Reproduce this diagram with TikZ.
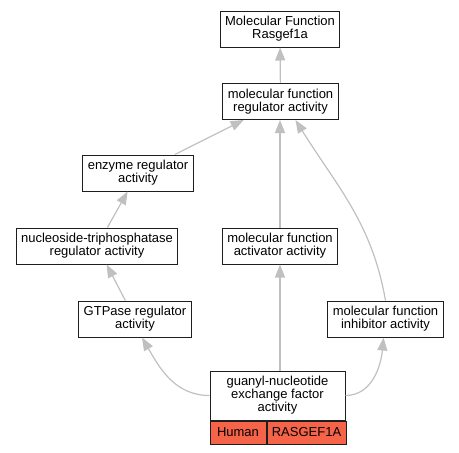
\documentclass[tikz,border=0pt]{standalone}
\usepackage{fontspec}
\setmainfont{Liberation Sans}
\usetikzlibrary{arrows.meta}
\usetikzlibrary{positioning}

\definecolor{edgegray}{RGB}{192,192,192}
\definecolor{boxline}{RGB}{30,30,30}
\definecolor{tomatocell}{RGB}{245,99,73}

\tikzset{
  term/.style={draw=boxline, line width=1pt, fill=white, align=center,
    inner xsep=5pt, inner ysep=0pt, minimum height=36pt,
    font=\fontsize{13}{13}\selectfont},
  cell/.style={draw=boxline, line width=1pt, fill=tomatocell, inner sep=0pt,
    minimum height=23pt, anchor=north west, font=\fontsize{13}{13}\selectfont},
  isa/.style={draw=edgegray, line width=1.2pt, -{Triangle[length=13pt,width=10pt]}}
}

\begin{document}
\begin{tikzpicture}[x=1pt,y=-1pt]
	\useasboundingbox (0,0) rectangle (459,453);

	% terms
	\node[term] (mf) at (280,29) {Molecular Function\\Rasgef1a};
	\node[term] (regulator) at (280.5,101.5) {molecular function\\regulator activity};
	\node[term] (enzyme) at (138,173) {enzyme regulator\\activity};
	\node[term] (ntpase) at (97,246) {nucleoside-triphosphatase\\regulator activity};
	\node[term] (activator) at (280,246) {molecular function\\activator activity};
	\node[term] (gtpase) at (135,319) {GTPase regulator\\activity};
	\node[term] (inhibitor) at (385.5,319) {molecular function\\inhibitor activity};

	% gene box
	\node[term, minimum width=135pt, minimum height=49pt] (gene) at (277.5,395.5)
		{guanyl-nucleotide\\exchange factor\\activity};
	\node[cell, minimum width=56pt] (human) at (gene.south west) {Human};
	\node[cell, minimum width=79pt] (rasgef) at (human.north east) {RASGEF1A};

	% edges
	\draw[isa] (regulator) -- (mf);
	\draw[isa] (enzyme) -- (regulator);
	\draw[isa] (ntpase) -- (enzyme);
	\draw[isa] (gtpase) -- (ntpase);
	\draw[isa] (activator.north) -- (regulator.south -| activator.north);
	\draw[isa] (inhibitor.north) to[out=100,in=-58] ([xshift=15pt]regulator.south);
	\draw[isa] (gene.west) to[out=180,in=-60] ([xshift=7pt]gtpase.south);
	\draw[isa] (gene.north -| activator.south) -- (activator.south);
	\draw[isa] (gene.east) to[out=0,in=-95] ([xshift=-2pt]inhibitor.south);
\end{tikzpicture}
\end{document}
